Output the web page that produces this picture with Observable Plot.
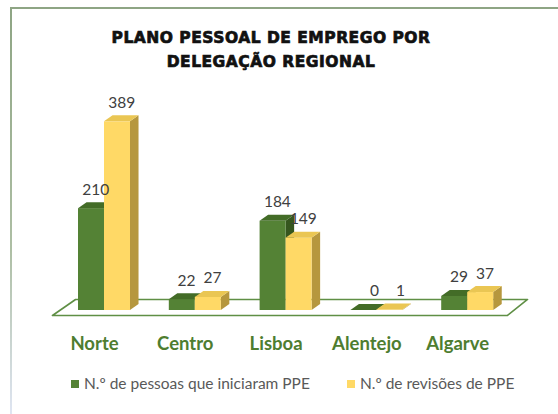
<!DOCTYPE html>
<html>
<head>
<meta charset="utf-8">
<script src="https://cdn.jsdelivr.net/npm/d3@7"></script>
<script src="https://cdn.jsdelivr.net/npm/@observablehq/plot@0.6"></script>
<style>
  html, body { margin: 0; padding: 0; background: #fff; }
  #wrap { position: relative; width: 558px; height: 414px; overflow: hidden; background: #fff; }
  #btop { position: absolute; left: 10px; top: 7px; width: 548px; height: 2px; background: #8ea584; }
  #bleft { position: absolute; left: 10px; top: 7px; width: 2px; height: 407px; background: linear-gradient(#8ea584, #aebfa5 60%, #dfe5f2); }
  #title { position: absolute; left: 0; top: 26px; width: 542px; text-align: center;
    font-family: "DejaVu Sans", sans-serif; font-weight: bold; font-size: 15.5px; line-height: 24px;
    color: #111; letter-spacing: 0.5px; -webkit-text-stroke: 0.7px #111; }
  #chart { position: absolute; left: 0; top: 80px; }
  #legend { position: absolute; top: 375px; left: 71px; font-family: Lato, sans-serif; font-size: 15.5px;
    color: #595959; line-height: 16px; white-space: nowrap; }
  .li { position: absolute; top: 0; white-space: nowrap; }
  .sw { display: inline-block; width: 8px; height: 8px; margin-right: 5px; vertical-align: 1px; }
</style>
</head>
<body>
<div id="wrap">
  <div id="btop"></div>
  <div id="bleft"></div>
  <div id="title">PLANO PESSOAL DE EMPREGO POR<br>DELEGAÇÃO REGIONAL</div>
  <div id="chart"></div>
  <div id="legend"></div>
</div>
<script>
// ---- data ----
const regions = ["Norte", "Centro", "Lisboa", "Alentejo", "Algarve"];
const iniciaram = [210, 22, 184, 0, 29];
const revisoes = [389, 27, 149, 1, 37];
const seriesNames = ["N.º de pessoas que iniciaram PPE", "N.º de revisões de PPE"];

// ---- styling ----
const frontColors = ["#548235", "#ffd966"];
const topColors = ["#436c27", "#eac653"];
const sideColors = ["#35561e", "#b6973e"];

const W = 0.2863;     // bar width in category units
const DX = 0.094;     // 3D depth in x (category units)
const DY = 12.4;      // 3D depth in y (value units)

const seriesValues = [iniciaram, revisoes];
const bars = [];
seriesValues.forEach((vals, s) => {
  regions.forEach((r, i) => {
    const xl = i + (s - 1) * W;
    bars.push({region: r, i, s, series: seriesNames[s], value: vals[i], xl, xr: xl + W});
  });
});

const marks = [];
// floor (3D base plane)
const floorPts = [
  {x: -0.573, y: -10.3}, {x: 4.438, y: -10.3}, {x: 4.659, y: 22.7}, {x: -0.319, y: 22.7}, {x: -0.573, y: -10.3}
];
marks.push(Plot.line(floorPts, {x: "x", y: "y", stroke: "#5f8f45", strokeWidth: 1.6, fill: "#fff"}));

for (let s = 0; s < 2; s++) {
  const b = bars.filter(d => d.s === s);
  const side = b.flatMap(d => [
    {k: d.i, x: d.xr, y1: 0, y2: d.value},
    {k: d.i, x: d.xr + DX, y1: DY, y2: d.value + DY}
  ]);
  const top = b.flatMap(d => [
    {k: d.i, y: d.value, x1: d.xl, x2: d.xr},
    {k: d.i, y: d.value + DY, x1: d.xl + DX, x2: d.xr + DX}
  ]);
  marks.push(Plot.areaY(side, {x: "x", y1: "y1", y2: "y2", z: "k", fill: sideColors[s], curve: "linear"}));
  marks.push(Plot.rect(b, {x1: "xl", x2: "xr", y1: 0, y2: "value", fill: frontColors[s]}));
  marks.push(Plot.areaX(top, {y: "y", x1: "x1", x2: "x2", z: "k", fill: topColors[s], curve: "linear"}));
}

// value labels
marks.push(Plot.text(bars, {
  x: d => (d.xl + d.xr) / 2 + DX / 2 + (d.region === "Alentejo" ? 0.07 : 0),
  y: d => d.value + DY,
  text: d => String(d.value),
  dy: -13,
  fontSize: 15.5, fill: "#404040", fontFamily: "Lato, sans-serif"
}));

// category axis
marks.push(Plot.axisX(d3.range(regions.length), {
  tickFormat: i => regions[i], tickSize: 0, tickPadding: 6, dx: -10,
  fontSize: 18.5, fontWeight: "bold", fill: "#4e7d30", fontFamily: "Lato, sans-serif"
}));

const plot = Plot.plot({
  width: 558,
  height: 280,
  marginTop: 0, marginBottom: 30, marginLeft: 0, marginRight: 0,
  x: {type: "linear", domain: [0, 4], range: [104, 467.2], axis: null},
  y: {type: "linear", domain: [0, 400], range: [230, 230 - 400 * 0.485], axis: null},
  style: {background: "transparent", overflow: "visible"},
  marks
});
document.getElementById("chart").appendChild(plot);

// legend
const legend = document.getElementById("legend");
const legendX = [0, 276];
seriesNames.forEach((name, s) => {
  const item = document.createElement("span");
  item.className = "li";
  item.style.left = legendX[s] + "px";
  item.innerHTML = `<span class="sw" style="background:${frontColors[s]}"></span>${name}`;
  legend.appendChild(item);
});
</script>
</body>
</html>
